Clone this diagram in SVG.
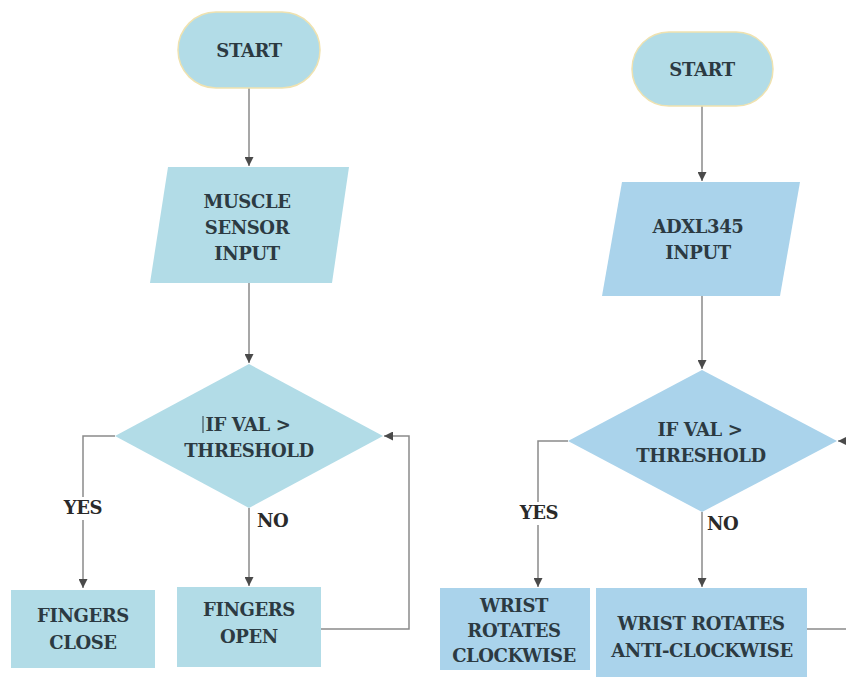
<svg xmlns="http://www.w3.org/2000/svg" width="846" height="677" viewBox="0 0 846 677">
<style>
text{font-family:"DejaVu Serif","Liberation Serif",serif;font-weight:bold;font-size:18px;letter-spacing:-0.4px}
.t{fill:#2c3a42;text-anchor:middle}
.lbl{fill:#2a2a2a}
.a{fill:#b2dce7}
.b{fill:#aad3eb}
.pill{stroke:#efe2b0;stroke-width:1.5}
.c{fill:none;stroke:#8a8a8a;stroke-width:1.5}
</style>
<defs>
<marker id="ah" viewBox="0 0 10 10" refX="10" refY="5" markerWidth="9" markerHeight="9" markerUnits="userSpaceOnUse" orient="auto">
<path d="M0 0 L10 5 L0 10 z" fill="#4a4a4a"/>
</marker>
</defs>
<rect width="846" height="677" fill="#ffffff"/>
<g id="connectors">
<path class="c" d="M249 88 V166" marker-end="url(#ah)"/>
<path class="c" d="M249 283 V363" marker-end="url(#ah)"/>
<path class="c" d="M115 436 H83 V497 M83 520 V588" marker-end="url(#ah)"/>
<path class="c" d="M249 508 V586" marker-end="url(#ah)"/>
<path class="c" d="M321 629 H409 V436 H384" marker-end="url(#ah)"/>
<path class="c" d="M702 106 V181" marker-end="url(#ah)"/>
<path class="c" d="M702 296 V369" marker-end="url(#ah)"/>
<path class="c" d="M568 441 H538 V502 M538 525 V587" marker-end="url(#ah)"/>
<path class="c" d="M702 512 V587" marker-end="url(#ah)"/>
<path class="c" d="M807 629 H860"/>
<path class="c" d="M860 441 H838" marker-end="url(#ah)"/>
<text class="lbl" x="83" y="514" text-anchor="middle">YES</text>
<text class="lbl" x="257" y="527">NO</text>
<text class="lbl" x="539" y="519" text-anchor="middle">YES</text>
<text class="lbl" x="707" y="530">NO</text>
</g>
<g id="start1">
<rect class="a pill" x="178" y="12" width="142" height="76" rx="38"/>
<text class="t" x="249" y="57">START</text>
</g>
<g id="muscle">
<polygon class="a" points="168,167 349,167 332,283 150,283"/>
<text class="t" x="247" y="208">MUSCLE</text>
<text class="t" x="247" y="234">SENSOR</text>
<text class="t" x="247" y="260">INPUT</text>
</g>
<g id="decision1">
<polygon class="a" points="249,364 383,436 249,508 115,436"/>
<line x1="203" y1="416" x2="203" y2="433" stroke="#2c3a42" stroke-width="1"/>
<text class="t" x="248" y="431">IF VAL &gt;</text>
<text class="t" x="249" y="457">THRESHOLD</text>
</g>
<g id="fingersClose">
<rect class="a" x="11" y="590" width="144" height="78"/>
<text class="t" x="83" y="622">FINGERS</text>
<text class="t" x="83" y="649">CLOSE</text>
</g>
<g id="fingersOpen">
<rect class="a" x="177" y="587" width="144" height="80"/>
<text class="t" x="249" y="616">FINGERS</text>
<text class="t" x="249" y="643">OPEN</text>
</g>
<g id="start2">
<rect class="a pill" x="632" y="32" width="141" height="74" rx="37"/>
<text class="t" x="702" y="76">START</text>
</g>
<g id="adxl">
<polygon class="b" points="622,182 800,182 780,296 602,296"/>
<text class="t" x="698" y="233">ADXL345</text>
<text class="t" x="698" y="259">INPUT</text>
</g>
<g id="decision2">
<polygon class="b" points="702,370 837,441 702,512 568,441"/>
<text class="t" x="700" y="436">IF VAL &gt;</text>
<text class="t" x="701" y="462">THRESHOLD</text>
</g>
<g id="wristCW">
<rect class="b" x="440" y="588" width="150" height="82"/>
<text class="t" x="514" y="612">WRIST</text>
<text class="t" x="514" y="637">ROTATES</text>
<text class="t" x="514" y="662">CLOCKWISE</text>
</g>
<g id="wristACW">
<rect class="b" x="596" y="588" width="211" height="92"/>
<text class="t" x="701" y="630">WRIST ROTATES</text>
<text class="t" x="702" y="657">ANTI-CLOCKWISE</text>
</g>
</svg>
